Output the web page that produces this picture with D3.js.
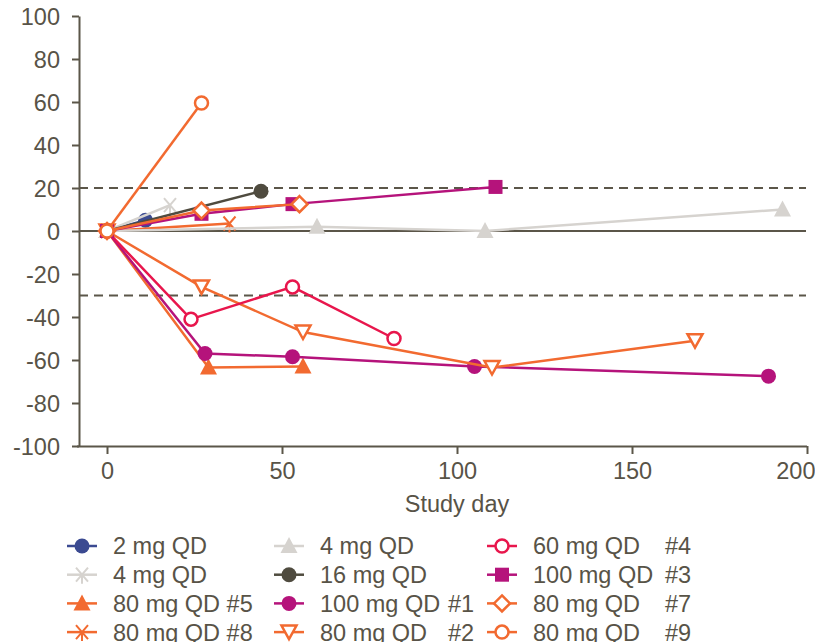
<!DOCTYPE html>
<html>
<head>
<meta charset="utf-8">
<script src="https://cdn.jsdelivr.net/npm/d3@7"></script>
<style>
  body { margin: 0; background: #fff; }
  text { font-family: Arial, "Liberation Sans", sans-serif; fill: #585347; }
</style>
</head>
<body>
<div id="chart"></div>
<script>
// series data (x = study day, y = % change)
var seriesNames = ["2 mg QD", "4 mg QD", "80 mg QD #5", "80 mg QD #8",
                   "4 mg QD", "16 mg QD", "100 mg QD", "80 mg QD",
                   "60 mg QD", "100 mg QD", "80 mg QD", "80 mg QD"];
var seriesTags = ["", "", "", "", "", "", "#1", "#2", "#4", "#3", "#7", "#9"];

var seriesDays = [
  [0, 11],
  [0, 18],
  [0, 29, 56],
  [0, 35],
  [0, 60, 108, 193],
  [0, 44],
  [0, 28, 53, 105, 189],
  [0, 27, 56, 110, 168],
  [0, 24, 53, 82],
  [0, 27, 53, 111],
  [0, 27, 55],
  [0, 27]
];
var seriesValues = [
  [0, 5],
  [0, 12],
  [0, -63.5, -63],
  [0, 3.5],
  [0, 2, 0, 10],
  [0, 18.5],
  [0, -57, -58.5, -63, -67.5],
  [0, -26, -47, -63.5, -51],
  [0, -41, -26, -50],
  [0, 8, 12.5, 20.5],
  [0, 9.5, 12.5],
  [0, 59.5]
];

var xTicks = [0, 50, 100, 150, 200];
var yTicks = [-100, -80, -60, -40, -20, 0, 20, 40, 60, 80, 100];
var refLines = [20, -30];

// styles
var seriesColors = ["#3b4a91", "#d6d3cf", "#f26a30", "#f26a30",
                    "#d6d3cf", "#4f4b3f", "#b5137b", "#f26a30",
                    "#e8164c", "#b5137b", "#f26a30", "#f26a30"];
var seriesMarkers = ["circle", "star", "triangle", "star",
                     "triangle", "circle", "circle", "triangleDown",
                     "openCircle", "square", "openDiamond", "openCircle"];

var axisColor = "#5b5649";
var fontSize = 23.5;

var svg = d3.select("#chart")
  .append("svg")
    .attr("width", 815)
    .attr("height", 642);

var x = d3.scaleLinear()
  .domain([-8, 200])
  .range([79, 807]);

var y = d3.scaleLinear()
  .domain([-100, 100])
  .range([446, 16]);

var plainFormat = function(d) { return String(d); };

// Y axis
var yAxis = svg.append("g")
  .attr("transform", "translate(" + x(-8) + ",0)")
  .call(d3.axisLeft(y).tickValues(yTicks).tickFormat(plainFormat)
    .tickSize(7).tickSizeOuter(0).tickPadding(12));
// X axis
var xAxis = svg.append("g")
  .attr("transform", "translate(0," + y(-100) + ")")
  .call(d3.axisBottom(x).tickValues(xTicks).tickFormat(plainFormat)
    .tickSize(8).tickSizeOuter(0).tickPadding(8));

[yAxis, xAxis].forEach(function(a) {
  a.select(".domain").attr("stroke", axisColor).attr("stroke-width", 2);
  a.selectAll(".tick line").attr("stroke", axisColor).attr("stroke-width", 2);
  a.selectAll(".tick text")
    .attr("font-size", fontSize)
    .attr("font-family", "Arial, 'Liberation Sans', sans-serif")
    .attr("fill", "#585347");
});
yAxis.selectAll(".tick text").attr("dy", "0.36em");
xAxis.select(".domain").attr("d", "M77,0.5H807");
// last label is pushed in so it fits the page, as in the reference
xAxis.selectAll(".tick text")
  .filter(function(d) { return d === 200; })
  .attr("text-anchor", "end")
  .attr("x", 815 - x(200));

svg.append("text")
  .attr("x", x(100))
  .attr("y", 512)
  .attr("text-anchor", "middle")
  .attr("font-size", fontSize)
  .text("Study day");

// zero line and threshold lines
svg.append("line")
  .attr("x1", x(-8)).attr("x2", 806)
  .attr("y1", y(0)).attr("y2", y(0))
  .attr("stroke", axisColor).attr("stroke-width", 2);

svg.selectAll(".ref")
  .data(refLines)
  .enter()
  .append("line")
    .attr("x1", x(-8)).attr("x2", 806)
    .attr("y1", function(d) { return y(d); })
    .attr("y2", function(d) { return y(d); })
    .attr("stroke", axisColor)
    .attr("stroke-width", 2)
    .attr("stroke-dasharray", "9,6");

// marker drawing
function drawMarker(g, type, color, cx, cy) {
  var m;
  if (type === "circle") {
    m = g.append("circle").attr("r", 7.5).attr("fill", color);
  } else if (type === "openCircle") {
    m = g.append("circle").attr("r", 6.5).attr("fill", "#fff")
      .attr("stroke", color).attr("stroke-width", 2.5);
  } else if (type === "square") {
    m = g.append("rect").attr("x", -7).attr("y", -7).attr("width", 14).attr("height", 14)
      .attr("fill", color);
  } else if (type === "openDiamond") {
    m = g.append("path").attr("d", "M0,-8L8,0L0,8L-8,0Z").attr("fill", "#fff")
      .attr("stroke", color).attr("stroke-width", 2.5);
  } else if (type === "triangle") {
    m = g.append("path").attr("d", "M0,-9L8.5,7L-8.5,7Z").attr("fill", color);
  } else if (type === "triangleDown") {
    m = g.append("path").attr("d", "M-7.5,-6.5L7.5,-6.5L0,7Z").attr("fill", "#fff")
      .attr("stroke", color).attr("stroke-width", 2.5);
  } else if (type === "star") {
    m = g.append("path").attr("d", "M-6,-7L6,7M6,-7L-6,7M0,0V9").attr("fill", "none")
      .attr("stroke", color).attr("stroke-width", 2);
  }
  m.attr("transform", "translate(" + cx + "," + cy + ")");
}

var line = d3.line()
  .x(function(d) { return x(d[0]); })
  .y(function(d) { return y(d[1]); });

seriesNames.forEach(function(name, i) {
  var pts = d3.zip(seriesDays[i], seriesValues[i]);
  var g = svg.append("g");
  g.append("path")
    .datum(pts)
    .attr("d", line)
    .attr("fill", "none")
    .attr("stroke", seriesColors[i])
    .attr("stroke-width", 2.5);
  pts.forEach(function(p) {
    drawMarker(g, seriesMarkers[i], seriesColors[i], x(p[0]), y(p[1]));
  });
});

// legend, 3 columns x 4 rows
var legCols = [82, 289, 502];
var tagX = [null, 448, 665];
seriesNames.forEach(function(name, i) {
  var col = Math.floor(i / 4), row = i % 4;
  var cx = legCols[col], cy = 546 + row * 28.7;
  var g = svg.append("g");
  g.append("line")
    .attr("x1", cx - 15).attr("x2", cx + 15)
    .attr("y1", cy).attr("y2", cy)
    .attr("stroke", seriesColors[i]).attr("stroke-width", 2.5);
  drawMarker(g, seriesMarkers[i], seriesColors[i], cx, cy);
  g.append("text")
    .attr("x", cx + 31)
    .attr("y", cy)
    .attr("dy", "0.36em")
    .attr("font-size", fontSize)
    .text(name);
  if (seriesTags[i]) {
    g.append("text")
      .attr("x", tagX[col])
      .attr("y", cy)
      .attr("dy", "0.36em")
      .attr("font-size", fontSize)
      .text(seriesTags[i]);
  }
});
</script>
</body>
</html>
